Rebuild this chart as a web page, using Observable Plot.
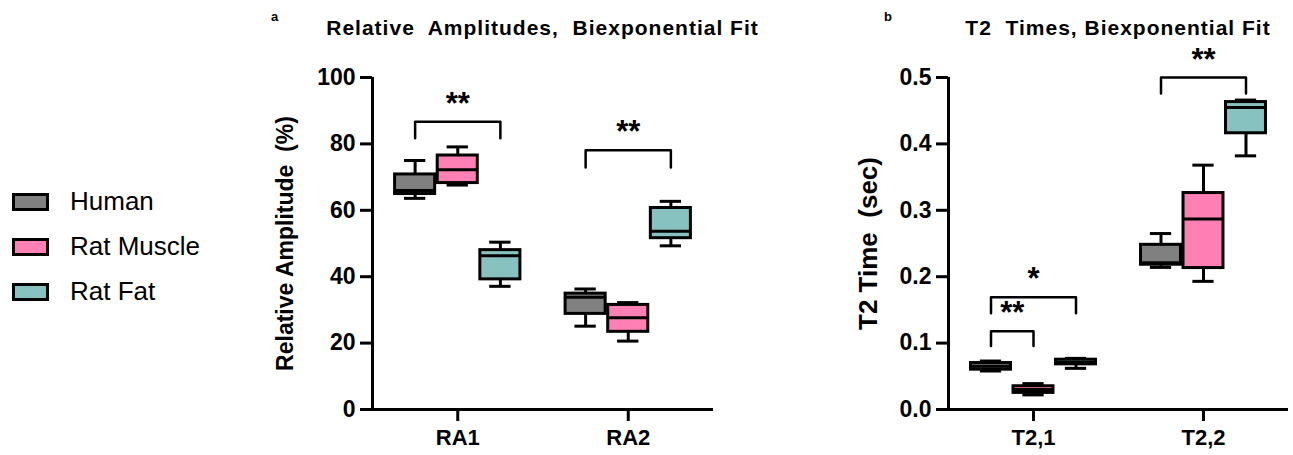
<!DOCTYPE html>
<html>
<head>
<meta charset="utf-8">
<script src="https://cdn.jsdelivr.net/npm/d3@7"></script>
<script src="https://cdn.jsdelivr.net/npm/@observablehq/plot@0.6"></script>
<style>
  html, body { margin: 0; padding: 0; background: #fff; }
  body { width: 1293px; height: 455px; position: relative; overflow: hidden; font-family: "Liberation Sans", Arial, sans-serif; color: #000; }
  .abs { position: absolute; }
  .title { font-weight: bold; font-size: 21px; text-align: center; white-space: pre; letter-spacing: 1px; }
  .letter { font-weight: bold; font-size: 13px; }
  .legend-row { position: absolute; left: 12px; display: flex; align-items: center; }
  .swatch { width: 31px; height: 12px; border: 3px solid #000; }
  .legend-label { margin-left: 21px; font-size: 26px; }
</style>
</head>
<body>
<div id="legend"></div>
<div class="abs letter" style="left:271px; top:9px;">a</div>
<div class="abs title" style="left:322px; width:441px; top:16px;">Relative  Amplitudes,  Biexponential Fit</div>
<div class="abs letter" style="left:884px; top:9px;">b</div>
<div class="abs title" style="left:948px; width:340px; top:16px;">T2  Times, Biexponential Fit</div>
<div id="panelA" class="abs" style="left:240px; top:0px;"></div>
<div id="panelB" class="abs" style="left:820px; top:0px;"></div>
<script>
// ---- Data ----
const groups = ["Human", "Rat Muscle", "Rat Fat"];
const groupColors = ["#808080", "#ff80b4", "#88c2c0"];

// Panel a: relative amplitudes (%), per category: [min, q1, median, q3, max]
const ampCategories = ["RA1", "RA2"];
const ampHuman     = [[63.6, 64.9, 66.0, 70.8, 75.0], [25.1, 28.8, 33.8, 34.9, 36.3]];
const ampRatMuscle = [[67.6, 68.2, 72.2, 76.5, 79.1], [20.6, 23.4, 27.6, 31.5, 32.2]];
const ampRatFat    = [[37.1, 39.2, 46.3, 48.0, 50.4], [49.3, 51.6, 53.7, 60.7, 62.7]];
const ampTicks = [0, 20, 40, 60, 80, 100];
// significance: category, from group, to group, bracket level, drop level, label
const ampSig = [
  {cat: 0, from: 0, to: 2, level: 86.7, drop: 81.7, label: "**"},
  {cat: 1, from: 0, to: 2, level: 78.1, drop: 72.9, label: "**"}
];

// Panel b: T2 times (sec)
const t2Categories = ["T2,1", "T2,2"];
const t2Human     = [[0.058, 0.060, 0.065, 0.070, 0.073], [0.214, 0.218, 0.221, 0.248, 0.265]];
const t2RatMuscle = [[0.022, 0.025, 0.030, 0.035, 0.039], [0.193, 0.213, 0.287, 0.326, 0.368]];
const t2RatFat    = [[0.062, 0.068, 0.071, 0.075, 0.077], [0.382, 0.416, 0.455, 0.463, 0.466]];
const t2Ticks = [0, 0.1, 0.2, 0.3, 0.4, 0.5];
const t2Sig = [
  {cat: 0, from: 0, to: 2, level: 0.169, drop: 0.145, label: "*"},
  {cat: 0, from: 0, to: 1, level: 0.118, drop: 0.0955, label: "**"},
  {cat: 1, from: 0, to: 2, level: 0.500, drop: 0.476, label: "**"}
];

// ---- Legend ----
const legend = document.getElementById("legend");
groups.forEach((g, i) => {
  const row = document.createElement("div");
  row.className = "legend-row";
  row.style.top = (186 + i * 45) + "px";
  const sw = document.createElement("div");
  sw.className = "swatch";
  sw.style.background = groupColors[i];
  const lab = document.createElement("span");
  lab.className = "legend-label";
  lab.textContent = g;
  row.appendChild(sw); row.appendChild(lab);
  legend.appendChild(row);
});

// ---- Panels ----
const pos = (ci, gi) => ci * 4 + gi; // category slot + group offset (x scale units)
const halfBox = 0.47, halfCap = 0.25;

function panel({categories, seriesList, sig, yDomain, yTicks, yFormat, yLabel, labelDx, labelSize, width, marginLeft, marginRight}) {
  const rows = [];
  categories.forEach((c, ci) => {
    seriesList.forEach((s, gi) => {
      const [min, q1, med, q3, max] = s[ci];
      rows.push({x: pos(ci, gi), group: groups[gi], min, q1, med, q3, max});
    });
  });
  const bracketPts = [];
  const labels = [];
  sig.forEach((b, i) => {
    const xa = pos(b.cat, b.from), xb = pos(b.cat, b.to);
    bracketPts.push({id: i, x: xa, y: b.drop}, {id: i, x: xa, y: b.level}, {id: i, x: xb, y: b.level}, {id: i, x: xb, y: b.drop});
    labels.push({x: (xa + xb) / 2, y: b.level, label: b.label});
  });
  const y0 = yDomain[0], y1 = yDomain[1];
  return Plot.plot({
    width, height: 455,
    marginLeft, marginRight, marginTop: 77, marginBottom: 46,
    style: {fontFamily: "Liberation Sans, Arial, sans-serif", color: "#000", background: "transparent", overflow: "visible"},
    x: {domain: [-1, 7]},
    y: {domain: yDomain},
    color: {domain: groups, range: groupColors},
    marks: [
      Plot.ruleX(rows, {x: "x", y1: "min", y2: "q1", stroke: "#000", strokeWidth: 3}),
      Plot.ruleX(rows, {x: "x", y1: "q3", y2: "max", stroke: "#000", strokeWidth: 3}),
      Plot.ruleY(rows, {x1: d => d.x - halfCap, x2: d => d.x + halfCap, y: "min", stroke: "#000", strokeWidth: 3}),
      Plot.ruleY(rows, {x1: d => d.x - halfCap, x2: d => d.x + halfCap, y: "max", stroke: "#000", strokeWidth: 3}),
      Plot.rect(rows, {x1: d => d.x - halfBox, x2: d => d.x + halfBox, y1: "q1", y2: "q3", fill: "group", stroke: "#000", strokeWidth: 3}),
      Plot.ruleY(rows, {x1: d => d.x - halfBox, x2: d => d.x + halfBox, y: "med", stroke: "#000", strokeWidth: 3}),
      Plot.line(bracketPts, {x: "x", y: "y", z: "id", stroke: "#000", strokeWidth: 2.5, curve: "linear"}),
      Plot.text(labels, {x: "x", y: "y", text: "label", fontSize: 31, fontWeight: "bold", lineAnchor: "bottom", dy: -8}),
      Plot.ruleY([y0], {stroke: "#000", strokeWidth: 3}),
      Plot.ruleX([-1], {y1: y0, y2: y1, stroke: "#000", strokeWidth: 3}),
      Plot.axisY({ticks: yTicks, tickFormat: yFormat, tickSize: 12, tickPadding: 5, fontSize: 23, fontWeight: "bold", strokeWidth: 3, label: null}),
      Plot.text([yLabel], {frameAnchor: "left", rotate: -90, dx: labelDx, fontSize: labelSize, fontWeight: "bold", textAnchor: "middle", lineAnchor: "middle"}),
      Plot.axisX({ticks: [1, 5], tickFormat: d => categories[(d - 1) / 4], tickSize: 12, tickPadding: 8, fontSize: 22, fontWeight: "bold", strokeWidth: 3, label: null})
    ]
  });
}

document.getElementById("panelA").appendChild(panel({
  categories: ampCategories, seriesList: [ampHuman, ampRatMuscle, ampRatFat], sig: ampSig,
  yDomain: [0, 100], yTicks: ampTicks, yFormat: d3.format("d"), yLabel: "Relative Amplitude  (%)", labelDx: -87, labelSize: 23,
  width: 520, marginLeft: 132, marginRight: 47
}));
document.getElementById("panelB").appendChild(panel({
  categories: t2Categories, seriesList: [t2Human, t2RatMuscle, t2RatFat], sig: t2Sig,
  yDomain: [0, 0.5], yTicks: t2Ticks, yFormat: d3.format(".1f"), yLabel: "T2 Time  (sec)", labelDx: -80, labelSize: 26,
  width: 473, marginLeft: 128, marginRight: 5
}));
</script>
</body>
</html>
